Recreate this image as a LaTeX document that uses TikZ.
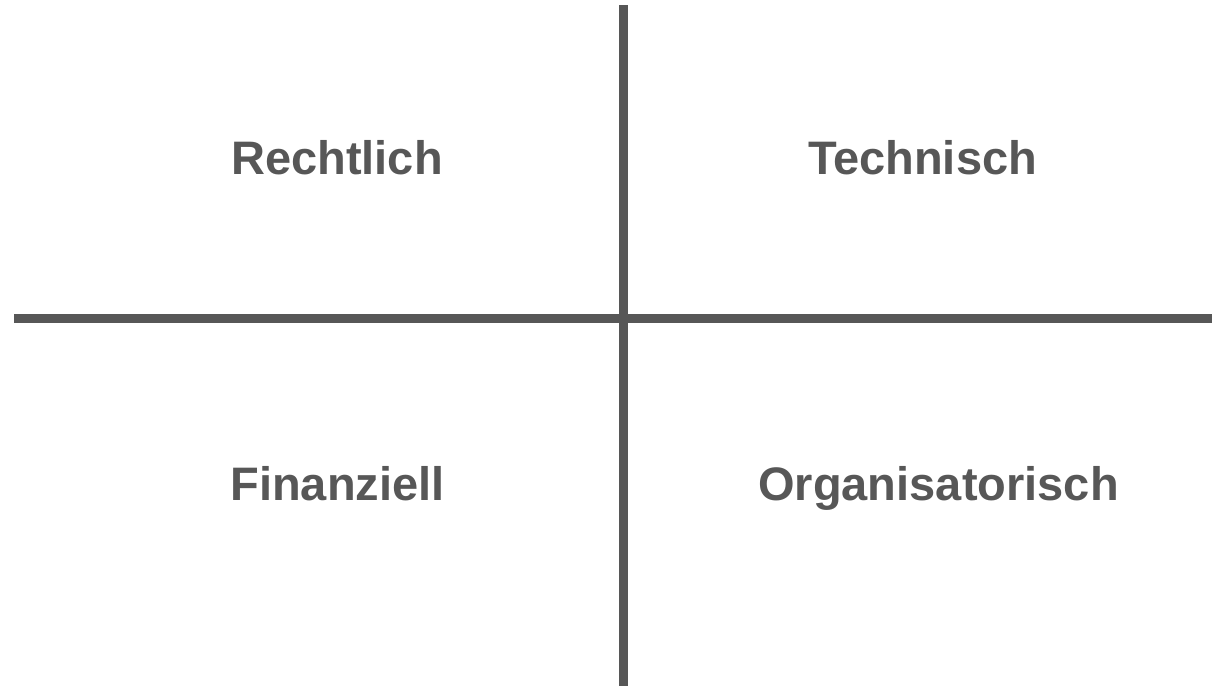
\documentclass[tikz,border=0pt]{standalone}
\usepackage{fontspec}
\setmainfont{Liberation Sans}
\usepackage{tikz}
\definecolor{axisgray}{HTML}{575757}

\begin{document}
\begin{tikzpicture}[x=0.5pt,y=-0.5pt]
        \useasboundingbox (0,0) rectangle (1212,686);
        \begin{scope}[
            every node/.style={anchor=base,text=axisgray,inner sep=0pt,font=\bfseries\fontsize{23.5}{28}\selectfont}
        ]
            \node (R) at (337, 174) {Rechtlich};
            \node (T) at (922.5, 174) {Technisch};
            \node (F) at (337.5, 500) {Finanziell};
            \node (O) at (938.5, 500) {Organisatorisch};
        \end{scope}
        \begin{scope}[
            every path/.style={draw=axisgray,line width=4.5pt}
        ]
            \coordinate (top) at (623, 5);
            \coordinate (bottom) at (623, 686);
            \coordinate (left) at (14, 318);
            \coordinate (right) at (1212, 318);

            \path [-] (top) edge (bottom);
            \path [-] (left) edge (right);
        \end{scope}
    \end{tikzpicture}
\end{document}
